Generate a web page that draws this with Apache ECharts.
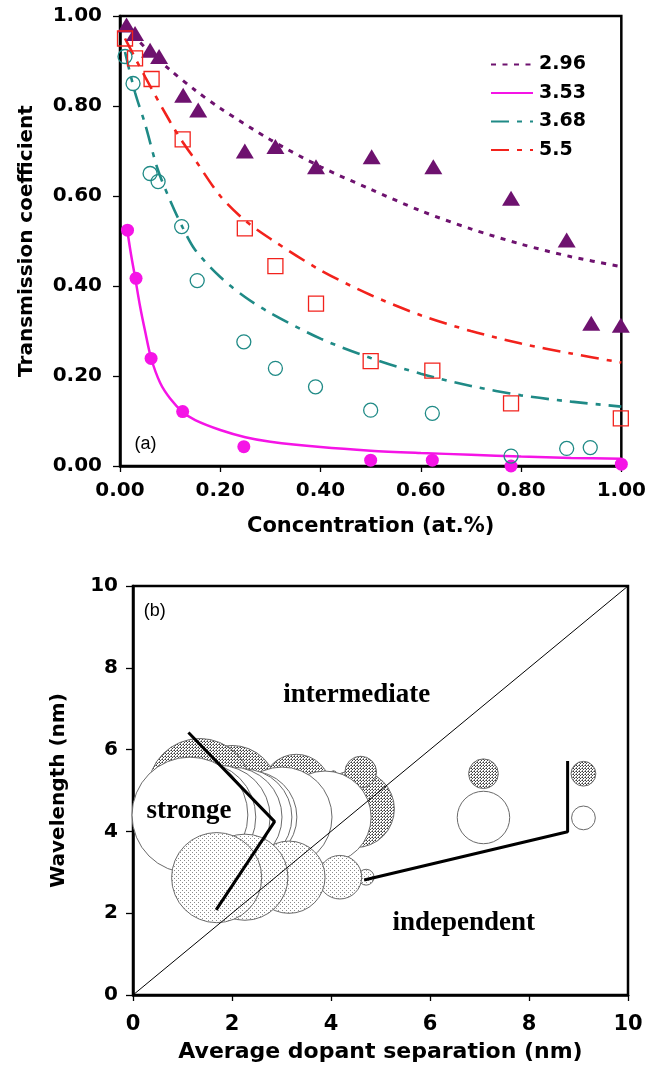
<!DOCTYPE html>
<html>
<head>
<meta charset="utf-8">
<script src="https://cdn.jsdelivr.net/npm/echarts@6/dist/echarts.min.js"></script>
<style>
html,body{margin:0;padding:0;background:#fff;}
#main{width:649px;height:1069px;}
</style>
</head>
<body>
<div id="main"></div>
<script>
// ---------- Panel (a): Transmission coefficient vs concentration ----------
const seriesNames = ['2.96', '3.53', '3.68', '5.5'];
const axisTicksA = [0, 0.2, 0.4, 0.6, 0.8, 1.0];

// measured points
const conc296 = [0.013, 0.030, 0.060, 0.078, 0.126, 0.156, 0.249, 0.31, 0.391, 0.502, 0.625, 0.78, 0.891, 0.94, 0.999];
const trans296 = [0.98, 0.961, 0.924, 0.91, 0.824, 0.791, 0.70, 0.71, 0.665, 0.687, 0.665, 0.595, 0.502, 0.317, 0.313];

const conc353 = [0.015, 0.032, 0.062, 0.125, 0.247, 0.50, 0.623, 0.78, 1.0];
const trans353 = [0.524, 0.417, 0.239, 0.121, 0.043, 0.013, 0.013, 0.0, 0.004];

const conc368 = [0.01, 0.026, 0.06, 0.076, 0.123, 0.154, 0.247, 0.31, 0.39, 0.50, 0.623, 0.78, 0.891, 0.938];
const trans368 = [0.91, 0.85, 0.65, 0.632, 0.532, 0.412, 0.276, 0.217, 0.176, 0.124, 0.117, 0.022, 0.039, 0.041];

const conc55 = [0.01, 0.03, 0.063, 0.125, 0.249, 0.31, 0.391, 0.50, 0.623, 0.78, 0.999];
const trans55 = [0.95, 0.906, 0.86, 0.726, 0.528, 0.444, 0.361, 0.233, 0.212, 0.139, 0.106];

// fitted curves
const fitX296 = [0.01, 0.05, 0.1, 0.15, 0.2, 0.3, 0.4, 0.5, 0.6, 0.7, 0.8, 0.9, 1.0];
const fitY296 = [0.98, 0.93, 0.88, 0.835, 0.795, 0.725, 0.665, 0.615, 0.567, 0.527, 0.493, 0.465, 0.443];

const fitX353 = [0.015, 0.022, 0.03, 0.04, 0.05, 0.062, 0.08, 0.1, 0.125, 0.15, 0.2, 0.25, 0.3, 0.4, 0.5, 0.6, 0.7, 0.8, 0.9, 1.0];
const fitY353 = [0.52, 0.47, 0.42, 0.355, 0.30, 0.24, 0.185, 0.15, 0.12, 0.102, 0.08, 0.064, 0.054, 0.042, 0.034, 0.029, 0.025, 0.021, 0.018, 0.016];

const fitX368 = [0.01, 0.03, 0.05, 0.075, 0.1, 0.125, 0.15, 0.2, 0.25, 0.3, 0.4, 0.5, 0.6, 0.7, 0.8, 0.9, 1.0];
const fitY368 = [0.92, 0.83, 0.76, 0.66, 0.59, 0.53, 0.48, 0.42, 0.375, 0.34, 0.283, 0.24, 0.205, 0.178, 0.157, 0.143, 0.132];

const fitX55 = [0.01, 0.05, 0.1, 0.125, 0.15, 0.2, 0.25, 0.3, 0.4, 0.5, 0.6, 0.7, 0.8, 0.9, 1.0];
const fitY55 = [0.95, 0.865, 0.765, 0.72, 0.68, 0.60, 0.545, 0.505, 0.435, 0.38, 0.335, 0.30, 0.272, 0.25, 0.23];

// ---------- Panel (b): Wavelength vs average dopant separation ----------
// [separation (nm), wavelength (nm), radius (nm)]
const bubblesDense = [[9.1, 5.41, 0.25], [7.08, 5.41, 0.30], [4.5, 4.55, 0.78], [4.05, 5.41, 0.06], [4.6, 5.45, 0.32], [3.3, 5.05, 0.69], [2.0, 5.0, 0.91], [1.35, 5.0, 1.05]];
const bubblesOpen = [[9.1, 4.33, 0.24], [7.08, 4.34, 0.53], [3.88, 4.35, 0.93], [3.01, 4.35, 1.01], [2.38, 4.35, 0.93], [2.24, 4.35, 0.97], [2.0, 4.35, 1.01], [1.72, 4.35, 1.05], [1.37, 4.35, 1.11], [1.15, 4.4, 1.17]];
const bubblesLight = [[4.71, 2.88, 0.16], [4.18, 2.88, 0.44], [3.15, 2.88, 0.73], [2.26, 2.88, 0.87], [1.69, 2.87, 0.91]];

const diagLine = [[0, 0], [10, 10]];
const strongLine = [[1.12, 6.42], [2.86, 4.24], [1.68, 2.08]];
const independentLine = [[8.78, 5.72], [8.78, 3.99], [4.67, 2.81]];

const regionLabels = ['intermediate', 'stronge', 'independent'];
const regionPos = [[4.52, 7.33], [1.13, 4.51], [6.68, 1.76]];
const panelLabels = ['(a)', '(b)'];
const panelPosA = [0.051, 0.049];
const panelPosB = [0.44, 9.39];
const axisTicksB = [0, 2, 4, 6, 8, 10];

// ---------- helpers ----------
const zip = (xs, ys) => xs.map((x, i) => [x, ys[i]]);

function makePattern(kind) {
  const c = document.createElement('canvas');
  const ctx = c.getContext('2d');
  if (kind === 'light') {
    c.width = 4; c.height = 4;
    ctx.fillStyle = '#fff'; ctx.fillRect(0, 0, 4, 4);
    ctx.fillStyle = '#8a8a8a';
    ctx.fillRect(0, 0, 1, 1);
    ctx.fillRect(2, 2, 1, 1);
  } else {
    c.width = 3; c.height = 3;
    ctx.fillStyle = '#fff'; ctx.fillRect(0, 0, 3, 3);
    ctx.fillStyle = '#3a3a3a';
    ctx.fillRect(0, 0, 1, 1);
    ctx.fillRect(1, 1, 1, 1);
    ctx.fillStyle = '#888';
    ctx.fillRect(2, 0, 1, 1);
    ctx.fillRect(0, 2, 1, 1);
  }
  return { type: 'pattern', image: c, repeat: 'repeat' };
}
const patLight = makePattern('light');
const patDense = makePattern('dense');

function bubbleRender(fill) {
  return function (params, api) {
    const c = api.coord([api.value(0), api.value(1)]);
    const s = api.size([1, 1]);
    const r = api.value(2) * s[0];
    return {
      type: 'circle',
      shape: { cx: c[0], cy: c[1], r: r },
      style: { fill: fill, stroke: '#6a6a6a', lineWidth: 1 }
    };
  };
}

const boldFont = { fontFamily: 'DejaVu Sans', fontWeight: 'bold', color: '#000' };

const C296 = '#6e126f', C353 = '#f514e6', C368 = '#1f8a86', C55 = '#f2221c';

function axisCommon(extra) {
  return Object.assign({
    type: 'value',
    axisLine: { show: true, onZero: false, lineStyle: { color: '#000', width: 2.5 } },
    axisTick: { show: true, length: 6, lineStyle: { color: '#000', width: 1.3 } },
    splitLine: { show: false },
    nameLocation: 'middle'
  }, extra);
}

const chart = echarts.init(document.getElementById('main'), null, { renderer: 'canvas' });

const option = {
  backgroundColor: '#fff',
  animation: false,
  grid: [
    { left: 120, top: 16, width: 503, height: 450, show: true, borderColor: '#000', borderWidth: 2.5, backgroundColor: 'transparent' },
    { left: 133, top: 586, width: 495, height: 409, show: true, borderColor: '#000', borderWidth: 2.5, backgroundColor: 'transparent' }
  ],
  xAxis: [
    axisCommon({
      gridIndex: 0, min: axisTicksA[0], max: axisTicksA[axisTicksA.length - 1], interval: 0.2,
      axisLabel: Object.assign({ fontSize: 20, margin: 15, formatter: v => v.toFixed(2) }, boldFont),
      name: 'Concentration (at.%)', nameGap: 50,
      nameTextStyle: Object.assign({ fontSize: 21 }, boldFont)
    }),
    axisCommon({
      gridIndex: 1, min: axisTicksB[0], max: axisTicksB[axisTicksB.length - 1], interval: 2,
      axisLabel: Object.assign({ fontSize: 21, margin: 19 }, boldFont),
      name: 'Average dopant separation (nm)', nameGap: 46,
      nameTextStyle: Object.assign({ fontSize: 22 }, boldFont)
    })
  ],
  yAxis: [
    axisCommon({
      gridIndex: 0, min: axisTicksA[0], max: axisTicksA[axisTicksA.length - 1], interval: 0.2,
      axisTick: { show: true, length: 7, lineStyle: { color: '#000', width: 1.3 } },
      axisLabel: Object.assign({ fontSize: 20, margin: 18, formatter: v => v.toFixed(2) }, boldFont),
      name: 'Transmission coefficient', nameGap: 83,
      nameTextStyle: Object.assign({ fontSize: 20 }, boldFont)
    }),
    axisCommon({
      gridIndex: 1, min: axisTicksB[0], max: axisTicksB[axisTicksB.length - 1], interval: 2,
      axisTick: { show: true, length: 7, lineStyle: { color: '#000', width: 1.3 } },
      axisLabel: Object.assign({ fontSize: 20, margin: 15 }, boldFont),
      name: 'Wavelength (nm)', nameGap: 64,
      nameTextStyle: Object.assign({ fontSize: 20 }, boldFont)
    })
  ],
  legend: {
    data: seriesNames,
    orient: 'vertical',
    left: 490, top: 55,
    padding: 0,
    itemWidth: 42, itemHeight: 14, itemGap: 9.5,
    itemStyle: { opacity: 0 },
    textStyle: Object.assign({ fontSize: 19, padding: [0, 0, 0, 1] }, boldFont)
  },
  series: [
    // ----- fitted lines (a)
    { name: seriesNames[0], type: 'line', xAxisIndex: 0, yAxisIndex: 0, data: zip(fitX296, fitY296), smooth: 0.3, symbol: 'none',
      lineStyle: { color: C296, width: 3, type: [5, 6.5] }, itemStyle: { color: C296 }, z: 3 },
    { name: seriesNames[1], type: 'line', xAxisIndex: 0, yAxisIndex: 0, data: zip(fitX353, fitY353), smooth: 0.3, symbol: 'none',
      lineStyle: { color: C353, width: 2.5, type: 'solid' }, itemStyle: { color: C353 }, z: 3 },
    { name: seriesNames[2], type: 'line', xAxisIndex: 0, yAxisIndex: 0, data: zip(fitX368, fitY368), smooth: 0.3, symbol: 'none',
      lineStyle: { color: C368, width: 2.6, type: [18, 8, 5, 8] }, itemStyle: { color: C368 }, z: 3 },
    { name: seriesNames[3], type: 'line', xAxisIndex: 0, yAxisIndex: 0, data: zip(fitX55, fitY55), smooth: 0.3, symbol: 'none',
      lineStyle: { color: C55, width: 2.6, type: [18, 8, 5, 8] }, itemStyle: { color: C55 }, z: 3 },
    // ----- measured markers (a)
    { name: 'pts296', type: 'scatter', xAxisIndex: 0, yAxisIndex: 0, data: zip(conc296, trans296),
      symbol: 'triangle', symbolSize: [18, 15], itemStyle: { color: C296, opacity: 1 }, z: 4 },
    { name: 'pts353', type: 'scatter', xAxisIndex: 0, yAxisIndex: 0, data: zip(conc353, trans353),
      symbol: 'circle', symbolSize: 13, itemStyle: { color: C353, opacity: 1 }, z: 4 },
    { name: 'pts368', type: 'scatter', xAxisIndex: 0, yAxisIndex: 0, data: zip(conc368, trans368),
      symbol: 'circle', symbolSize: 14, itemStyle: { color: 'rgba(255,255,255,0)', borderColor: C368, borderWidth: 1.3, opacity: 1 }, z: 4 },
    { name: 'pts55', type: 'scatter', xAxisIndex: 0, yAxisIndex: 0, data: zip(conc55, trans55),
      symbol: 'rect', symbolSize: 15, itemStyle: { color: 'rgba(255,255,255,0)', borderColor: C55, borderWidth: 1.3, opacity: 1 }, z: 4 },
    { name: 'panelA', type: 'scatter', xAxisIndex: 0, yAxisIndex: 0, data: [{ value: panelPosA, name: panelLabels[0] }],
      symbolSize: 0, silent: true, z: 5, itemStyle: { opacity: 1 },
      label: { show: true, position: 'inside', formatter: p => p.name, fontFamily: 'Liberation Sans', fontSize: 18, color: '#000' } },
    // ----- bubbles (b)
    { name: 'dense', type: 'custom', xAxisIndex: 1, yAxisIndex: 1, data: bubblesDense, encode: { x: 0, y: 1 },
      renderItem: bubbleRender(patDense), z: 2, silent: true },
    { name: 'open', type: 'custom', xAxisIndex: 1, yAxisIndex: 1, data: bubblesOpen, encode: { x: 0, y: 1 },
      renderItem: bubbleRender('#fff'), z: 2, silent: true },
    { name: 'light', type: 'custom', xAxisIndex: 1, yAxisIndex: 1, data: bubblesLight, encode: { x: 0, y: 1 },
      renderItem: bubbleRender(patLight), z: 2, silent: true },
    // ----- lines (b)
    { name: 'diag', type: 'line', xAxisIndex: 1, yAxisIndex: 1, data: diagLine, symbol: 'none',
      lineStyle: { color: '#000', width: 1 }, z: 3, silent: true },
    { name: 'strongLine', type: 'line', xAxisIndex: 1, yAxisIndex: 1, data: strongLine, symbol: 'none',
      lineStyle: { color: '#000', width: 3 }, z: 3, silent: true },
    { name: 'indepLine', type: 'line', xAxisIndex: 1, yAxisIndex: 1, data: independentLine, symbol: 'none',
      lineStyle: { color: '#000', width: 3 }, z: 3, silent: true },
    // ----- region labels (b)
    { name: 'regions', type: 'scatter', xAxisIndex: 1, yAxisIndex: 1,
      data: regionLabels.map((t, i) => ({ value: regionPos[i], name: t })),
      symbolSize: 0, silent: true, z: 5, itemStyle: { opacity: 1 },
      label: { show: true, position: 'inside', formatter: p => p.name, fontFamily: 'Liberation Serif', fontWeight: 'bold', fontSize: 27, color: '#000' } },
    { name: 'panelB', type: 'scatter', xAxisIndex: 1, yAxisIndex: 1, data: [{ value: panelPosB, name: panelLabels[1] }],
      symbolSize: 0, silent: true, z: 5, itemStyle: { opacity: 1 },
      label: { show: true, position: 'inside', formatter: p => p.name, fontFamily: 'Liberation Sans', fontSize: 18, color: '#000' } }
  ]
};
chart.setOption(option);
</script>
</body>
</html>
